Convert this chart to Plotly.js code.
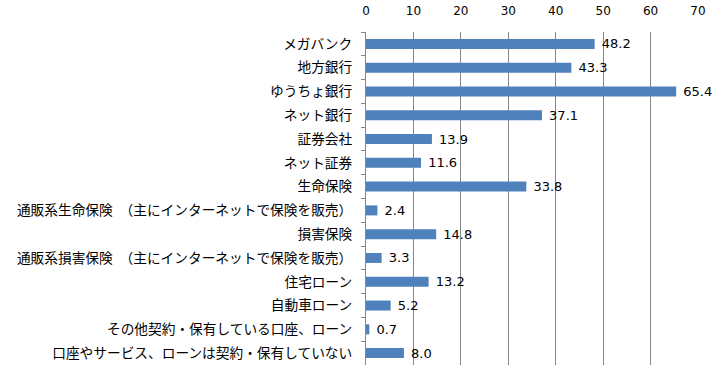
<!DOCTYPE html>
<html>
<head>
<meta charset="utf-8">
<script src="https://cdn.plot.ly/plotly-3.0.1.min.js"></script>
<style>html,body{margin:0;padding:0;background:#fff;}#chart{width:724px;height:384px;}</style>
</head>
<body>
<div id="chart"></div>
<script>
const categories = [
  "メガバンク",
  "地方銀行",
  "ゆうちょ銀行",
  "ネット銀行",
  "証券会社",
  "ネット証券",
  "生命保険",
  "通販系生命保険　（主にインターネットで保険を販売）",
  "損害保険",
  "通販系損害保険　（主にインターネットで保険を販売）",
  "住宅ローン",
  "自動車ローン",
  "その他契約・保有している口座、ローン",
  "口座やサービス、ローンは契約・保有していない"
];
const values = [48.2, 43.3, 65.4, 37.1, 13.9, 11.6, 33.8, 2.4, 14.8, 3.3, 13.2, 5.2, 0.7, 8.0];
const xTicks = [0, 10, 20, 30, 40, 50, 60, 70];

const trace = {
  type: 'bar',
  orientation: 'h',
  x: values,
  y: categories,
  marker: {color: '#4F81BD'},
  texttemplate: '\u00a0%{x:.1f}',
  textposition: 'outside',
  constraintext: 'none',
  cliponaxis: false,
  textfont: {family: 'DejaVu Sans, Verdana, sans-serif', size: 13, color: '#000'},
  hoverinfo: 'none'
};

const layout = {
  width: 724,
  height: 384,
  margin: {l: 366, r: 26, t: 32, b: 19, pad: 0},
  paper_bgcolor: '#fff',
  plot_bgcolor: '#fff',
  showlegend: false,
  bargap: 0.58,
  xaxis: {
    side: 'top',
    range: [0, 70],
    tickvals: xTicks,
    ticktext: xTicks.map(String),
    showgrid: true,
    gridcolor: '#868686',
    gridwidth: 1,
    zeroline: false,
    showline: false,
    ticks: '',
    ticklabelstandoff: 14,
    tickfont: {family: 'DejaVu Sans, Verdana, sans-serif', size: 12, color: '#000'},
    fixedrange: true
  },
  yaxis: {
    autorange: 'reversed',
    type: 'category',
    showline: true,
    linecolor: '#868686',
    linewidth: 1,
    ticks: 'outside',
    tickson: 'boundaries',
    ticklen: 4,
    tickcolor: '#868686',
    ticklabelstandoff: 10,
    showgrid: false,
    tickfont: {family: 'Noto Sans CJK JP, sans-serif', size: 13.7, color: '#000'},
    fixedrange: true
  }
};

Plotly.newPlot('chart', [trace], layout, {displayModeBar: false, staticPlot: true});
</script>
</body>
</html>
